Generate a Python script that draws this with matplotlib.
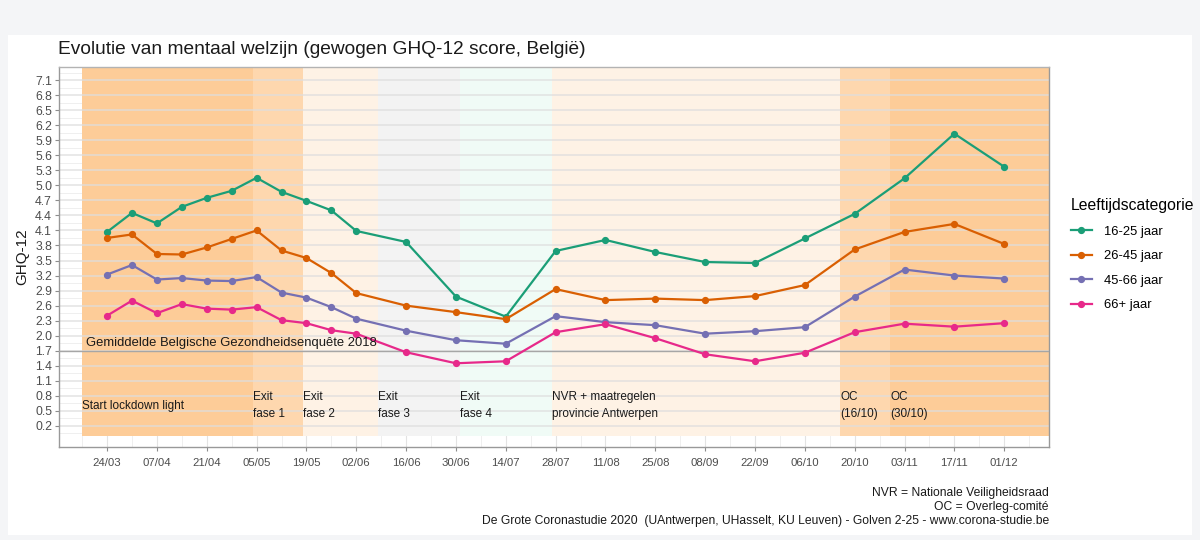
import numpy as np
import pandas as pd
import matplotlib
matplotlib.use('Agg')
import matplotlib.pyplot as plt
from matplotlib.lines import Line2D
from matplotlib.patches import Rectangle

plt.rcParams['font.family'] = ['Liberation Sans', 'DejaVu Sans']

# data (GHQ-12 per golf)
dates = pd.to_datetime([
    '2020-03-24', '2020-03-31', '2020-04-07', '2020-04-14', '2020-04-21', '2020-04-28',
    '2020-05-05', '2020-05-12', '2020-05-19', '2020-05-26', '2020-06-02', '2020-06-16',
    '2020-06-30', '2020-07-14', '2020-07-28', '2020-08-11', '2020-08-25', '2020-09-08',
    '2020-09-22', '2020-10-06', '2020-10-20', '2020-11-03', '2020-11-17', '2020-12-01'])

ghq_16_25 = [4.07, 4.45, 4.24, 4.57, 4.75, 4.89, 5.15, 4.87, 4.69, 4.50, 4.09, 3.87,
             2.78, 2.38, 3.69, 3.91, 3.67, 3.47, 3.45, 3.94, 4.43, 5.14, 6.03, 5.37]
ghq_26_45 = [3.95, 4.02, 3.63, 3.62, 3.76, 3.93, 4.10, 3.70, 3.55, 3.25, 2.85, 2.60,
             2.47, 2.33, 2.93, 2.71, 2.74, 2.71, 2.79, 3.01, 3.72, 4.07, 4.23, 3.83]
ghq_45_66 = [3.22, 3.41, 3.12, 3.15, 3.10, 3.09, 3.17, 2.86, 2.76, 2.57, 2.34, 2.10,
             1.91, 1.84, 2.39, 2.27, 2.21, 2.04, 2.09, 2.17, 2.78, 3.32, 3.20, 3.14]
ghq_66plus = [2.40, 2.70, 2.45, 2.63, 2.54, 2.52, 2.57, 2.31, 2.25, 2.11, 2.04, 1.67,
              1.45, 1.49, 2.07, 2.23, 1.95, 1.63, 1.49, 1.66, 2.07, 2.24, 2.18, 2.25]

series = [ghq_16_25, ghq_26_45, ghq_45_66, ghq_66plus]
series_labels = ['16-25 jaar', '26-45 jaar', '45-66 jaar', '66+ jaar']
series_colors = ['#1B9E77', '#D95F02', '#7570B3', '#E7298A']

# maatregelen (achtergrond)
phase_starts = pd.to_datetime(['2020-03-17', '2020-05-04', '2020-05-18', '2020-06-08',
                               '2020-07-01', '2020-07-27', '2020-10-16', '2020-10-30'])
phase_labels = ['Start lockdown light', 'Exit\nfase 1', 'Exit\nfase 2', 'Exit\nfase 3',
                'Exit\nfase 4', 'NVR + maatregelen\nprovincie Antwerpen', 'OC\n(16/10)', 'OC\n(30/10)']
phase_colors = ['#fdcc98', '#fed7ae', '#fef2e5', '#f3f3f3',
                '#f0fbf6', '#fef2e5', '#fed7ae', '#fdcc98']

bench_value = 1.7
bench_label = 'Gemiddelde Belgische Gezondheidsenquête 2018'

xmin = pd.Timestamp('2020-03-10 12:00')
xmax = pd.Timestamp('2020-12-13 14:00')
ymin, ymax = -0.22, 7.36

fig = plt.figure(figsize=(12, 5.4), dpi=100, facecolor='#f4f5f7')
fig.patches.append(Rectangle((8 / 1200, 5 / 540), 1184 / 1200, 500 / 540,
                             transform=fig.transFigure, facecolor='white',
                             edgecolor='none', zorder=-10))

ax = fig.add_axes([59 / 1200, 93 / 540, 990 / 1200, 380 / 540])
ax.set_facecolor('white')
ax.set_xlim(xmin, xmax)
ax.set_ylim(ymin, ymax)

# grid
major_y = np.round(np.arange(0.2, 7.11, 0.3), 1)
minor_y = np.round(np.arange(-0.1, 7.4, 0.3) + 0.15, 2)
for y in minor_y:
    ax.axhline(y, color='#ececec', lw=0.6, zorder=0)
vgrid = pd.date_range('2020-03-17', '2020-12-08', freq='7D')
for i, d in enumerate(vgrid):
    ax.axvline(d, color='#e3e3e3' if i % 2 else '#ececec', lw=0.8 if i % 2 else 0.6, zorder=0)

# fases
phase_ends = list(phase_starts[1:]) + [xmax]
for s, e, c in zip(phase_starts, phase_ends, phase_colors):
    ax.fill_between([s, e], 0, ymax, color=c, lw=0, zorder=1)
for y in major_y:
    ax.axhline(y, color='#dedede', alpha=0.85, lw=1.1, zorder=2)

for s, lab in zip(phase_starts, phase_labels):
    ax.text(s, 0.6, lab, ha='left', va='center', fontsize=8.5,
            color='#1a1a1a', linespacing=1.55, zorder=5)

ax.axhline(bench_value, color='#a6a6a6', lw=1.0, zorder=3)
ax.text(phase_starts[0] + pd.Timedelta(days=1), bench_value + 0.03, bench_label,
        ha='left', va='bottom', fontsize=9.4, color='#1a1a1a', zorder=5)

for vals, lab, col in zip(series, series_labels, series_colors):
    ax.plot(dates, vals, color=col, lw=1.6, marker='o', markersize=4.2,
            label=lab, zorder=4)

# assen
ax.set_yticks(major_y)
ax.set_yticklabels([f'{v:.1f}' for v in major_y])
xt = pd.date_range('2020-03-24', '2020-12-01', freq='14D')
ax.set_xticks(xt)
ax.set_xticklabels([d.strftime('%d/%m') for d in xt])
ax.tick_params(axis='y', labelsize=8.8, colors='#8c8c8c', labelcolor='#4d4d4d',
               length=3, width=0.8, pad=2)
ax.tick_params(axis='x', labelsize=8.2, colors='#8c8c8c', labelcolor='#4d4d4d',
               length=3, width=0.8, pad=5)
for sp in ax.spines.values():
    sp.set_color('#999999')
    sp.set_linewidth(1.0)
ax.spines['top'].set_color('#b3b3b3')

ax.set_ylabel('GHQ-12', fontsize=11, color='#1a1a1a', labelpad=4)

fig.text(58 / 1200, (540 - 50) / 540,
         'Evolutie van mentaal welzijn (gewogen GHQ-12 score, België)',
         ha='left', va='center', fontsize=13.8, color='#1a1a1a')

handles = [Line2D([], [], color=c, lw=1.6, marker='o', markersize=4.2) for c in series_colors]
leg = fig.legend(handles, series_labels, title='Leeftijdscategorie',
                 loc='upper left', bbox_to_anchor=(1071 / 1200, (540 - 198) / 540),
                 frameon=False, fontsize=9.4, title_fontsize=11.3,
                 handlelength=1.6, handletextpad=0.9, labelspacing=0.95,
                 borderpad=0, borderaxespad=0)
leg._legend_box.align = 'left'
leg._legend_box.sep = 9

fig.text(1049 / 1200, (540 - 487) / 540,
         'NVR = Nationale Veiligheidsraad\nOC = Overleg-comité\n'
         'De Grote Coronastudie 2020  (UAntwerpen, UHasselt, KU Leuven) - Golven 2-25 - www.corona-studie.be',
         ha='right', va='top', multialignment='right', fontsize=8.75,
         color='#1a1a1a', linespacing=1.22)

fig.savefig('out.png', dpi=100, facecolor=fig.get_facecolor())
